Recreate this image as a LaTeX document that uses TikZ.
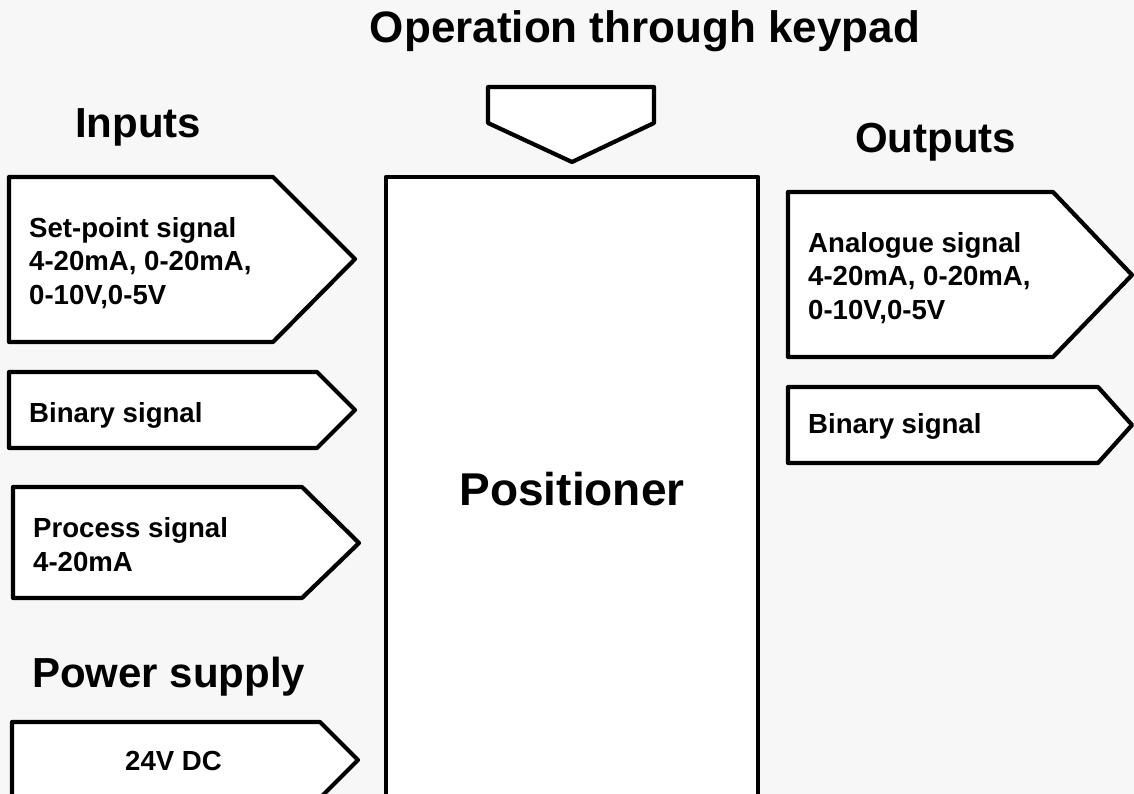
\documentclass[tikz,border=0pt]{standalone}
\usepackage{fontspec}
\setmainfont{Liberation Sans}
\definecolor{bgcol}{HTML}{F7F7F7}
\begin{document}
\begin{tikzpicture}[x=1pt,y=-1pt,
  shapebox/.style={draw=black,fill=white,line width=4.2pt,line join=round},
  head/.style={anchor=base west,inner sep=0pt,font=\fontsize{42}{50}\selectfont\bfseries},
  small/.style={anchor=base west,inner sep=0pt,align=left,font=\fontsize{27.6}{33.5}\selectfont\bfseries}]
\fill[bgcol] (0,0) rectangle (1134,794);
\useasboundingbox (0,0) rectangle (1134,794);
\clip (0,0) rectangle (1134,794);
% positioner body
\draw[shapebox] (386,177) -- (758,177) -- (758,820) -- (386,820) -- cycle;
% keypad arrow
\draw[shapebox] (488,87) -- (654,87) -- (654,123) -- (572,162) -- (488,123) -- cycle;
% inputs
\draw[shapebox] (9,177) -- (273,177) -- (355,259) -- (273,342) -- (9,342) -- cycle;
\draw[shapebox] (9,372) -- (317,372) -- (355,410) -- (317,448) -- (9,448) -- cycle;
\draw[shapebox] (13,487) -- (302,487) -- (359,543) -- (302,598) -- (13,598) -- cycle;
\draw[shapebox] (12,722) -- (320,722) -- (358,760) -- (320,798) -- (12,798) -- cycle;
% outputs
\draw[shapebox] (788,192) -- (1053,192) -- (1132,275) -- (1053,357) -- (788,357) -- cycle;
\draw[shapebox] (788,387) -- (1098,387) -- (1132,425) -- (1098,463) -- (788,463) -- cycle;
% texts
\node[anchor=base,inner sep=0pt,font=\fontsize{44}{52}\selectfont\bfseries] (title) at (645,43) {Operation through keypad};
\node[head] (inputs) at (75,138) {Inputs};
\node[head] (outputs) at (855,153) {Outputs};
\node[head] (power) at (32,687) {Power supply};
\node[anchor=base,inner sep=0pt,font=\fontsize{46}{54}\selectfont\bfseries] (positioner) at (572,505) {Positioner};
\node[small] (sp) at (29,304) {Set-point signal\\4-20mA, 0-20mA,\\0-10V,0-5V};
\node[small] (bin) at (29,422) {Binary signal};
\node[small] (proc) at (33,571) {Process signal\\4-20mA};
\node[small] (pwr) at (125,770) {24V DC};
\node[small] (ana) at (808,319) {Analogue signal\\4-20mA, 0-20mA,\\0-10V,0-5V};
\node[small] (binout) at (808,433) {Binary signal};
\end{tikzpicture}
\end{document}
